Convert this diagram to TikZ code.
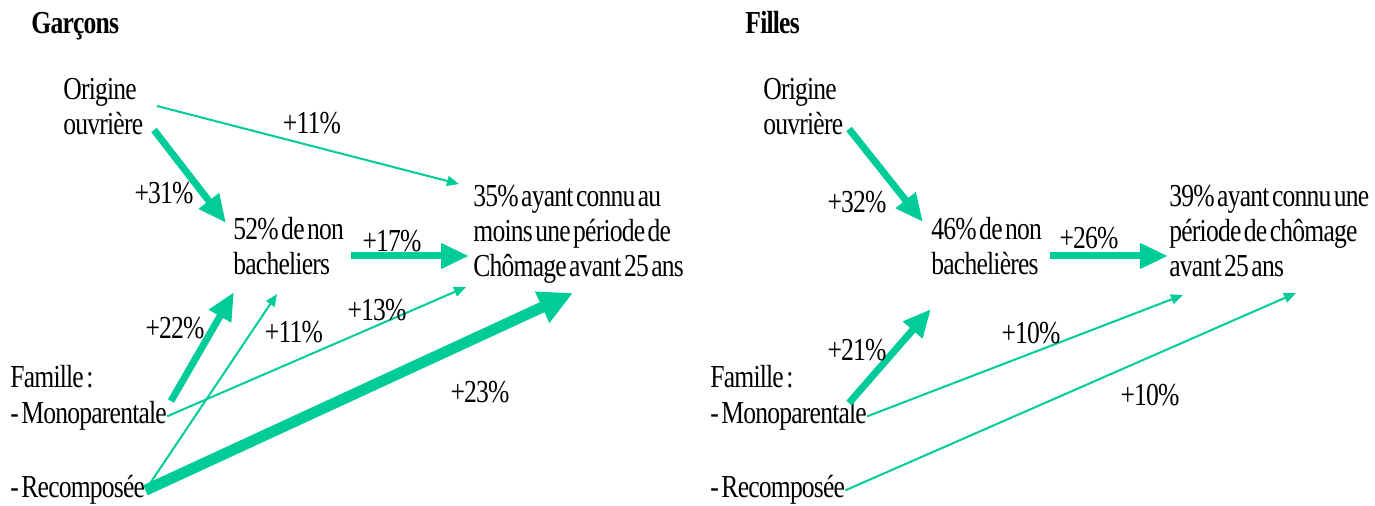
\documentclass[tikz,border=0pt]{standalone}
\usepackage{fontspec}
\setmainfont{Liberation Serif}[FakeStretch=0.8, WordSpace=0.45, LetterSpace=-2.5]
\usetikzlibrary{arrows.meta}
\definecolor{arrgreen}{RGB}{0,204,153}

\begin{document}
\begin{tikzpicture}[
		x = 0.5pt, y = -0.5pt, % one unit = one pixel of the figure
		every node/.style = {inner sep = 0pt, font = \fontsize{16}{17.5}\selectfont},
		txt/.style = {anchor = base west, align = left}, % base = last line
		title/.style = {anchor = base west, font = \fontsize{16}{17.5}\selectfont\bfseries},
		thinarr/.style = {draw = arrgreen, line width = 1pt, -{Triangle[length=6pt, width=5pt]}},
		thickarr/.style = {draw = arrgreen, line width = 3.5pt, -{Triangle[length=14pt, width=12pt]}},
		hugearr/.style = {draw = arrgreen, line width = 5.5pt, -{Triangle[length=17pt, width=16pt]}}
		]
		
		\useasboundingbox (0,0) rectangle (1375,506);
		
		% Garcons
		\node[title] (garcons) at (31,34) {Garçons};
		\node[txt] (origL) at (63,135) {Origine\\ouvrière};
		\node[txt] (nonbacL) at (233,275) {52\% de non\\bacheliers};
		\node[txt] (chomL) at (473,277) {35\% ayant connu au\\moins une période de\\Chômage avant 25 ans};
		\node[txt] (famL) at (10,388) {Famille :};
		\node[txt] (monoL) at (10,424) {- Monoparentale};
		\node[txt] (recompL) at (10,498) {- Recomposée};
		
		\coordinate (origL-a) at (157,106);
		\coordinate (origL-b) at (154,130);
		\coordinate (chomL-a) at (459,184);
		\coordinate (nonbacL-a) at (226,223);
		\coordinate (nonbacL-b) at (351,256);
		\coordinate (chomL-b) at (469,256);
		\coordinate (monoL-a) at (171,401);
		\coordinate (nonbacL-c) at (234,292);
		\coordinate (nonbacL-d) at (277,294);
		\coordinate (chomL-c) at (466,287);
		\coordinate (chomL-d) at (573,293);
		
		\draw[thinarr] (origL-a) -- (chomL-a);
		\draw[thickarr] (origL-b) -- (nonbacL-a);
		\draw[thickarr] (nonbacL-b) -- (chomL-b);
		\draw[thickarr] (monoL-a) -- (nonbacL-c);
		\draw[thinarr] (recompL.east) -- (nonbacL-d);
		\draw[thinarr] (monoL.east) -- (chomL-c);
		\draw[hugearr] (recompL.east) -- (chomL-d);
		
		\node (l11aL) at (312,123) {+11\%};
		\node (l31L) at (164,193) {+31\%};
		\node (l17L) at (392,241) {+17\%};
		\node (l22L) at (175,328) {+22\%};
		\node (l11bL) at (294,332) {+11\%};
		\node (l13L) at (377,310) {+13\%};
		\node (l23L) at (480,392) {+23\%};
		
		% Filles
		\node[title] (filles) at (745,34) {Filles};
		\node[txt] (origR) at (763,135) {Origine\\ouvrière};
		\node[txt] (nonbacR) at (931,275) {46\% de non\\bachelières};
		\node[txt] (chomR) at (1169,277) {39\% ayant connu une\\période de chômage\\avant 25 ans};
		\node[txt] (famR) at (710,388) {Famille :};
		\node[txt] (monoR) at (710,424) {- Monoparentale};
		\node[txt] (recompR) at (710,498) {- Recomposée};
		
		\coordinate (origR-b) at (849,129);
		\coordinate (nonbacR-a) at (923,222);
		\coordinate (nonbacR-b) at (1050,256);
		\coordinate (chomR-b) at (1168,256);
		\coordinate (monoR-a) at (849,403);
		\coordinate (nonbacR-c) at (931,309);
		\coordinate (chomR-c) at (1183,295);
		\coordinate (chomR-d) at (1296,293);
		
		\draw[thickarr] (origR-b) -- (nonbacR-a);
		\draw[thickarr] (nonbacR-b) -- (chomR-b);
		\draw[thickarr] (monoR-a) -- (nonbacR-c);
		\draw[thinarr] (monoR.east) -- (chomR-c);
		\draw[thinarr] (recompR.east) -- (chomR-d);
		
		\node (l32R) at (857,202) {+32\%};
		\node (l26R) at (1089,238) {+26\%};
		\node (l21R) at (857,350) {+21\%};
		\node (l10aR) at (1031,333) {+10\%};
		\node (l10bR) at (1150,395) {+10\%};
\end{tikzpicture}
\end{document}
